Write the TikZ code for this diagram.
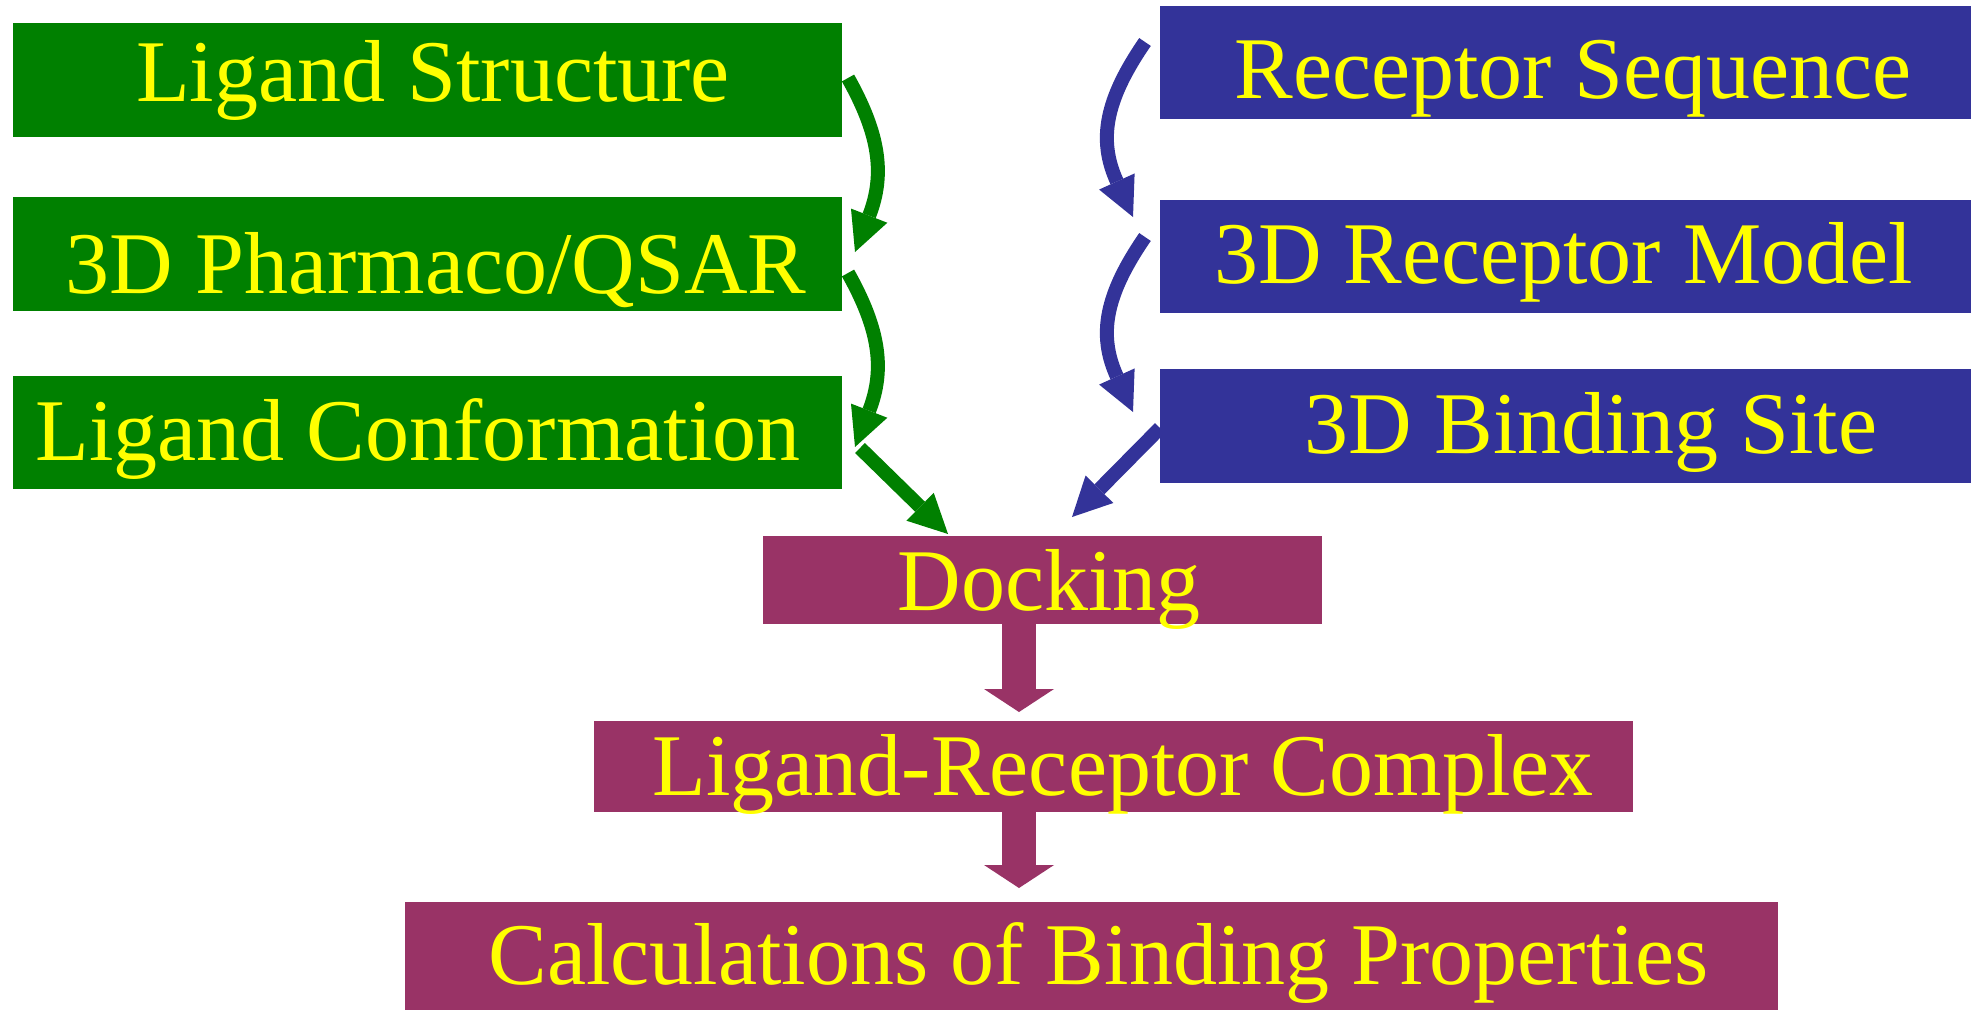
\documentclass[tikz,border=0pt]{standalone}
\usepackage{fontspec}
\setmainfont{Liberation Serif}
\usetikzlibrary{arrows.meta,calc}
\definecolor{lgreen}{HTML}{008000}
\definecolor{rblue}{HTML}{333399}
\definecolor{cpurple}{HTML}{993366}
\definecolor{tyellow}{HTML}{FFFF00}
\begin{document}
\begin{tikzpicture}[x=1pt,y=-1pt,
  box/.style={rectangle, inner sep=0pt, outer sep=0pt, anchor=north west, draw=none},
  gbox/.style={box, fill=lgreen},
  bbox/.style={box, fill=rblue},
  pbox/.style={box, fill=cpurple},
  lbl/.style={text=tyellow, inner sep=0pt, outer sep=0pt, anchor=base, font=\fontsize{88}{100}\selectfont},
  smallarr/.style={line width=14pt, -{Triangle[length=39pt,width=39pt,line width=0pt]}},
  garr/.style={smallarr, draw=lgreen},
  barr/.style={smallarr, draw=rblue},
  parr/.style={line width=34pt, draw=cpurple, -{Triangle[length=23pt,width=70pt,line width=0pt]}}
]
\useasboundingbox (0,0) rectangle (1980,1010);
\fill[white] (0,0) rectangle (1980,1010);

% boxes
\node[gbox, minimum width=829pt, minimum height=114pt] (ls) at (13,23) {};
\node[gbox, minimum width=829pt, minimum height=114pt] (ph) at (13,197) {};
\node[gbox, minimum width=829pt, minimum height=113pt] (lc) at (13,376) {};
\node[bbox, minimum width=811pt, minimum height=113pt] (rs) at (1160,6) {};
\node[bbox, minimum width=811pt, minimum height=113pt] (rm) at (1160,200) {};
\node[bbox, minimum width=811pt, minimum height=114pt] (bs) at (1160,369) {};
\node[pbox, minimum width=559pt, minimum height=88pt] (dk) at (763,536) {};
\node[pbox, minimum width=1039pt, minimum height=91pt] (lr) at (594,721) {};
\node[pbox, minimum width=1373pt, minimum height=108pt] (cb) at (405,902) {};

% labels
\node[lbl] (lst) at (433,101) {Ligand Structure};
\node[lbl] (pht) at (436,293) {3D Pharmaco/QSAR};
\node[lbl] (lct) at (418,460) {Ligand Conformation};
\node[lbl] (rst) at (1573,98) {Receptor Sequence};
\node[lbl] (rmt) at (1563.5,283) {3D Receptor Model};
\node[lbl] (bst) at (1591,453) {3D Binding Site};
\node[lbl] (dkt) at (1049,610) {Docking};
\node[lbl] (lrt) at (1123,795) {Ligand-Receptor Complex};
\node[lbl] (cbt) at (1098.5,984) {Calculations of Binding Properties};

% green arrows
\draw[garr] ([xshift=6pt,yshift=2pt]ls.east) .. controls (880,135) and (885,175) .. ([xshift=13pt,yshift=-55pt]ph.north east);
\draw[garr] ([xshift=6pt,yshift=-19pt]ph.east) .. controls (880,330) and (885,370) .. ([xshift=13pt,yshift=-71pt]lc.north east);
\draw[garr] ([xshift=18pt,yshift=-15.5pt]lc.east) -- ([xshift=185pt,yshift=2pt]dk.north west);

% blue arrows
\draw[barr] ([xshift=-15pt,yshift=20.5pt]rs.west) .. controls (1105,100) and (1098,140) .. ([xshift=-27pt,yshift=-17pt]rm.north west);
\draw[barr] ([xshift=-15pt,yshift=19.5pt]rm.west) .. controls (1105,295) and (1098,335) .. ([xshift=-27pt,yshift=-43pt]bs.north west);
\draw[barr] ([yshift=-2pt]bs.west) -- ([xshift=-250pt,yshift=19pt]dk.north east);

% purple arrows
\draw[parr] ([xshift=-23.5pt]dk.south) -- ([xshift=-94.5pt,yshift=9pt]lr.north);
\draw[parr] ([xshift=-94.5pt]lr.south) -- ([xshift=-72.5pt,yshift=14pt]cb.north);
\end{tikzpicture}
\end{document}
